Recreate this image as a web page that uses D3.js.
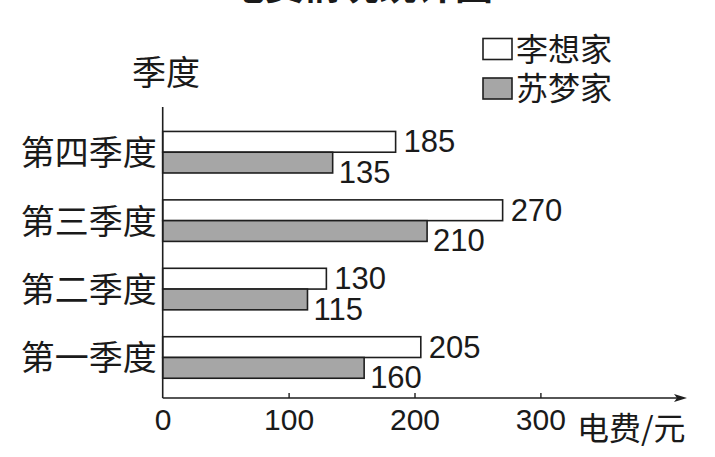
<!DOCTYPE html>
<html>
<head>
<meta charset="utf-8">
<script src="https://cdn.jsdelivr.net/npm/d3@7"></script>
<style>
  html, body { margin: 0; padding: 0; background: #ffffff; }
  svg { display: block; }
  .cjk { font-family: "Noto Sans CJK SC", "Noto Sans", sans-serif; fill: #1a1a1a; }
  .num { font-family: "Liberation Sans", Arial, sans-serif; fill: #1a1a1a; }
</style>
</head>
<body>
<svg id="chart" width="715" height="457"></svg>
<script>
// ---- data ----
const title = "电费情况统计图";
const categories = ["第一季度", "第二季度", "第三季度", "第四季度"];
const seriesNames = ["李想家", "苏梦家"];
const liXiang = [205, 130, 270, 185];
const suMeng = [160, 115, 210, 135];
const xTickValues = [0, 100, 200, 300];
const xAxisTitle = "电费/元";
const yAxisTitle = "季度";

// ---- layout ----
const x0 = 162.7, x300 = 540.4;
const axisY = 398, axisTop = 107, arrowTip = 687;
const colors = { "李想家": "#ffffff", "苏梦家": "#a6a6a6" };

const svg = d3.select("#chart");

const x = d3.scaleLinear().domain([0, 300]).range([x0, x300]);
const y = d3.scaleBand()
  .domain(categories.slice().reverse())
  .range([118, 391.7])
  .paddingInner(0.393)
  .paddingOuter(0.1965);
const ySub = d3.scaleBand().domain(seriesNames).range([0, y.bandwidth()]).padding(0);

const rows = categories.map((c, i) => ({ cat: c, vals: [
  { s: seriesNames[0], v: liXiang[i] },
  { s: seriesNames[1], v: suMeng[i] }
]}));

// title (cut off at top, as in the reference)
svg.append("text").attr("class", "cjk")
  .attr("x", 360).attr("y", -1.5)
  .attr("text-anchor", "middle")
  .attr("font-size", 38).attr("font-weight", 700)
  .text(title);

// y axis title
svg.append("text").attr("class", "cjk")
  .attr("x", 166).attr("y", 84.5)
  .attr("text-anchor", "middle")
  .attr("font-size", 34)
  .text(yAxisTitle);

// bars
const g = svg.append("g");
const groups = g.selectAll("g.row").data(rows).join("g")
  .attr("class", "row")
  .attr("transform", d => `translate(0,${y(d.cat)})`);

groups.selectAll("rect").data(d => d.vals).join("rect")
  .attr("x", x(0))
  .attr("y", d => ySub(d.s))
  .attr("width", d => x(d.v) - x(0))
  .attr("height", ySub.bandwidth())
  .attr("fill", d => colors[d.s])
  .attr("stroke", "#1e1e1e")
  .attr("stroke-width", 1.6);

// value labels
groups.selectAll("text.val").data(d => d.vals).join("text")
  .attr("class", "num val")
  .attr("font-size", 31)
  .attr("x", (d, i) => x(d.v) + (i === 0 ? 8 : 6))
  .attr("y", (d, i) => i === 0 ? ySub(d.s) + ySub.bandwidth() : ySub(d.s) + ySub.bandwidth() + 10)
  .text(d => d.v);

// y axis (category labels)
const yAxis = d3.axisLeft(y).tickSize(0).tickPadding(6);
const yg = svg.append("g").attr("transform", `translate(${x0},0)`).call(yAxis);
yg.select(".domain").remove();
yg.selectAll("text")
  .attr("class", "cjk")
  .attr("font-size", 34)
  .attr("dy", 13)
  .style("font-family", '"Noto Sans CJK SC", sans-serif')
  .attr("fill", "#1a1a1a");

// y axis line
svg.append("line")
  .attr("x1", x0).attr("x2", x0)
  .attr("y1", axisTop).attr("y2", axisY)
  .attr("stroke", "#1e1e1e").attr("stroke-width", 1.6);

// x axis
const xAxis = d3.axisBottom(x).tickValues(xTickValues).tickSizeInner(-5).tickSizeOuter(0).tickPadding(11);
const xg = svg.append("g").attr("transform", `translate(0,${axisY})`).call(xAxis);
xg.select(".domain").remove();
xg.selectAll(".tick line").attr("stroke", "#1e1e1e").attr("stroke-width", 1.4)
  .filter(d => d === 0).remove();
xg.selectAll("text")
  .attr("font-size", 30)
  .style("font-family", '"Liberation Sans", Arial, sans-serif')
  .attr("fill", "#1a1a1a");

// x axis line with arrow
svg.append("line")
  .attr("x1", x0).attr("x2", arrowTip - 4)
  .attr("y1", axisY).attr("y2", axisY)
  .attr("stroke", "#1e1e1e").attr("stroke-width", 1.6);
svg.append("path")
  .attr("d", `M${arrowTip},${axisY} L${arrowTip - 13},${axisY - 4} L${arrowTip - 10},${axisY} L${arrowTip - 13},${axisY + 4} Z`)
  .attr("fill", "#1e1e1e");

// x axis title
svg.append("text").attr("class", "cjk")
  .attr("x", 577).attr("y", 440)
  .attr("font-size", 32)
  .text(xAxisTitle);

// legend
const legend = svg.append("g").selectAll("g").data(seriesNames).join("g")
  .attr("transform", (d, i) => `translate(483,${i === 0 ? 38.5 : 78})`);
legend.append("rect")
  .attr("width", 29).attr("height", 21)
  .attr("fill", d => colors[d])
  .attr("stroke", "#1e1e1e").attr("stroke-width", 1.6);
legend.append("text").attr("class", "cjk")
  .attr("x", 33).attr("y", 22)
  .attr("font-size", 32)
  .text(d => d);
</script>
</body>
</html>
